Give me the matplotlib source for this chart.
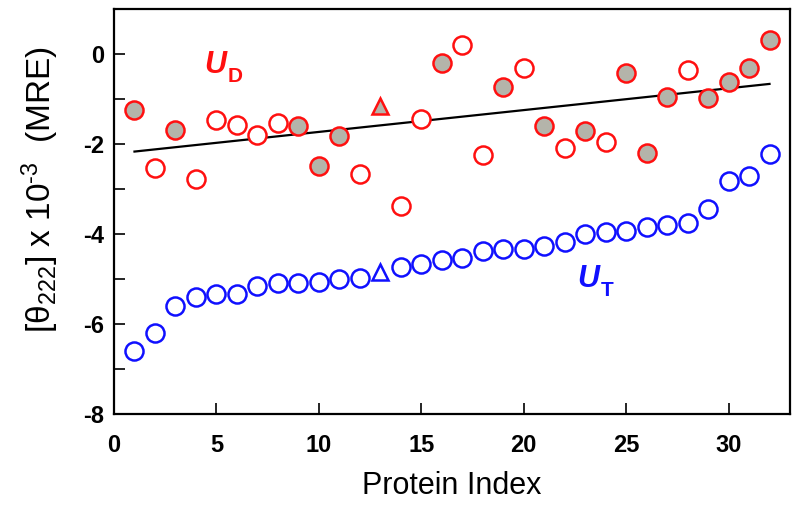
import numpy as np
import matplotlib
import matplotlib.pyplot as plt
matplotlib.use('Agg')

plt.rcParams['font.family'] = ['Liberation Sans', 'DejaVu Sans']
plt.rcParams['mathtext.fontset'] = 'custom'
plt.rcParams['mathtext.rm'] = 'Liberation Sans'
plt.rcParams['mathtext.it'] = 'Liberation Sans:italic'
plt.rcParams['mathtext.bf'] = 'Liberation Sans:bold'
plt.rcParams['axes.unicode_minus'] = False

# protein index 1..32
index = np.arange(1, 33)

# U_D (denatured), red
ud = [-1.24, -2.54, -1.68, -2.77, -1.46, -1.57, -1.79, -1.54, -1.59, -2.49,
      -1.81, -2.67, -1.15, -3.38, -1.44, -0.20, 0.20, -2.24, -0.73, -0.31,
      -1.59, -2.09, -1.70, -1.96, -0.43, -2.19, -0.96, -0.36, -0.98, -0.62,
      -0.30, 0.32]
# which U_D points have gray fill
ud_filled = [1, 0, 1, 0, 0, 0, 0, 0, 1, 1,
             1, 0, 1, 0, 0, 1, 0, 0, 1, 0,
             1, 0, 1, 0, 1, 1, 1, 0, 1, 1,
             1, 1]

# U_T (thermal), blue
ut = [-6.59, -6.19, -5.59, -5.39, -5.33, -5.33, -5.15, -5.08, -5.08, -5.06,
      -4.99, -4.97, -4.84, -4.73, -4.66, -4.57, -4.53, -4.38, -4.33, -4.33,
      -4.26, -4.18, -4.00, -3.95, -3.93, -3.84, -3.80, -3.76, -3.45, -2.83,
      -2.72, -2.21]

# protein 13 drawn as a triangle
tri_idx = 13

ud = np.array(ud)
ut = np.array(ut)
ud_filled = np.array(ud_filled, dtype=bool)
circ = index != tri_idx

red = '#ff1010'
blue = '#1010ff'
gray = '#b4b4aa'

fig = plt.figure(figsize=(8, 5.05), dpi=100)
ax = fig.add_axes([0.1425, 0.18, 0.845, 0.802])

# linear fit of U_D
p = np.polyfit(index, ud, 1)
ax.plot([index[0], index[-1]], np.polyval(p, [index[0], index[-1]]),
        color='black', lw=1.6, zorder=2)

m = circ & ud_filled
ax.plot(index[m], ud[m], 'o', ms=13, mfc=gray, mec=red, mew=1.8, ls='none', zorder=3)
m = circ & ~ud_filled
ax.plot(index[m], ud[m], 'o', ms=13, mfc='white', mec=red, mew=1.8, ls='none', zorder=3)
t = index == tri_idx
ax.plot(index[t], ud[t], '^', ms=11, mfc=gray, mec=red, mew=1.8, ls='none', zorder=3)

ax.plot(index[circ], ut[circ], 'o', ms=13, mfc='white', mec=blue, mew=1.8, ls='none', zorder=3)
ax.plot(index[t], ut[t], '^', ms=11, mfc='white', mec=blue, mew=1.8, ls='none', zorder=3)

# series labels
ax.text(4.4, -0.24, 'U', color=red, fontsize=22, fontweight='bold', style='italic', va='center')
ax.text(5.55, -0.50, 'D', color=red, fontsize=15, fontweight='bold', va='center')
ax.text(22.6, -5.0, 'U', color=blue, fontsize=22, fontweight='bold', style='italic', va='center')
ax.text(23.75, -5.26, 'T', color=blue, fontsize=15, fontweight='bold', va='center')

ax.set_xlim(0, 33)
ax.set_ylim(-8, 1)
ax.set_xticks(np.arange(0, 31, 5))
ax.set_yticks(np.arange(-8, 1, 2))
ax.set_yticks(np.arange(-7, 1, 2), minor=True)
ax.tick_params(direction='in', length=8, width=1.2, labelsize=17)
ax.tick_params(axis='x', pad=14)
ax.tick_params(axis='y', pad=7)
ax.tick_params(which='minor', direction='in', length=8, width=1.2)
for lab in ax.get_xticklabels() + ax.get_yticklabels():
    lab.set_fontweight('bold')
for s in ax.spines.values():
    s.set_linewidth(1.6)

fig.text(0.564, 0.022, 'Protein Index', fontsize=22, ha='center', va='baseline')
fig.text(0.05, 1 - 190 / 505, r'[θ$_{222}$] x 10$^{\text{-}3}$  (MRE)', fontsize=24,
         rotation=90, ha='center', va='center')

plt.savefig('out.png', dpi=100)
